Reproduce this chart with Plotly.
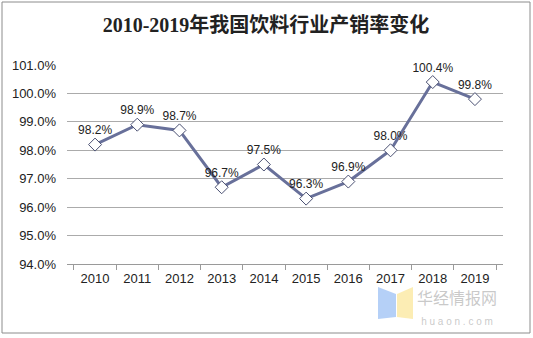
import plotly.graph_objects as go

years = ["2010", "2011", "2012", "2013", "2014", "2015", "2016", "2017", "2018", "2019"]
rates = [98.2, 98.9, 98.7, 96.7, 97.5, 96.3, 96.9, 98.0, 100.4, 99.8]
labels = [f"{v:.1f}%" for v in rates]
y_ticks = [94, 95, 96, 97, 98, 99, 100, 101]
y_tick_text = [f"{v:.1f}%" for v in y_ticks]
title = "2010-2019年我国饮料行业产销率变化"

W, H = 533, 338
L, R, T, B = 67, 30, 65, 74
pw, ph = W - L - R, H - T - B


def px(x):
    return (x - L) / pw


def py(y):
    return (H - B - y) / ph


fig = go.Figure()
fig.add_trace(go.Scatter(
    x=years, y=rates, mode="lines+markers+text",
    text=labels, textposition="top center",
    textfont=dict(family="Liberation Sans, Arial", size=12, color="#222222"),
    line=dict(color="#68709a", width=3),
    marker=dict(symbol="diamond", size=10, color="white",
                line=dict(color="#4a5072", width=1)),
    cliponaxis=False, showlegend=False,
))

shapes = [
    dict(type="rect", xref="paper", yref="paper",
         x0=px(2), x1=px(530), y0=py(333), y1=py(2),
         line=dict(color="#8c8c8c", width=1), fillcolor="rgba(0,0,0,0)"),
    # watermark logo
    dict(type="path", xref="paper", yref="paper",
         path=f"M {px(378)} {py(287)} L {px(396)} {py(294)} L {px(396)} {py(317)} L {px(378)} {py(319)} Z",
         fillcolor="rgba(120,170,240,0.55)", line=dict(width=0), layer="below"),
    dict(type="path", xref="paper", yref="paper",
         path=f"M {px(397)} {py(294)} L {px(413)} {py(287)} L {px(413)} {py(319)} L {px(397)} {py(317)} Z",
         fillcolor="rgba(250,225,130,0.6)", line=dict(width=0), layer="below"),
]

annotations = [
    dict(text="华经情报网<br><span style='font-size:10px;font-family:Liberation Sans'>h u a o n . c o m</span>",
         xref="paper", yref="paper", x=px(457), y=py(306),
         xanchor="center", yanchor="middle", showarrow=False,
         font=dict(family="Noto Sans CJK SC", size=16, color="rgba(165,165,165,0.6)")),
]

fig.update_layout(
    width=W, height=H,
    margin=dict(l=L, r=R, t=T, b=B),
    paper_bgcolor="white", plot_bgcolor="white",
    title=dict(text=f"<b>{title}</b>", x=266 / W, xref="container", xanchor="center",
               y=1 - 25 / H, yanchor="middle",
               font=dict(family="Liberation Serif, Noto Sans CJK SC", size=20, color="#222222")),
    xaxis=dict(type="category", showgrid=False, showline=True, linecolor="#9a9a9a", linewidth=1,
               ticks="outside", tickson="boundaries", ticklen=5, tickcolor="#9a9a9a",
               ticklabelstandoff=2,
               tickfont=dict(family="Liberation Sans, Arial", size=13, color="#222222")),
    yaxis=dict(range=[94, 101], tickvals=y_ticks, ticktext=y_tick_text,
               showgrid=True, gridcolor="#ababab", gridwidth=1, zeroline=False,
               showline=False, ticks="", ticklabelstandoff=10,
               tickfont=dict(family="Liberation Sans, Arial", size=13, color="#222222")),
    shapes=shapes, annotations=annotations,
)

fig.write_html("out.html")
